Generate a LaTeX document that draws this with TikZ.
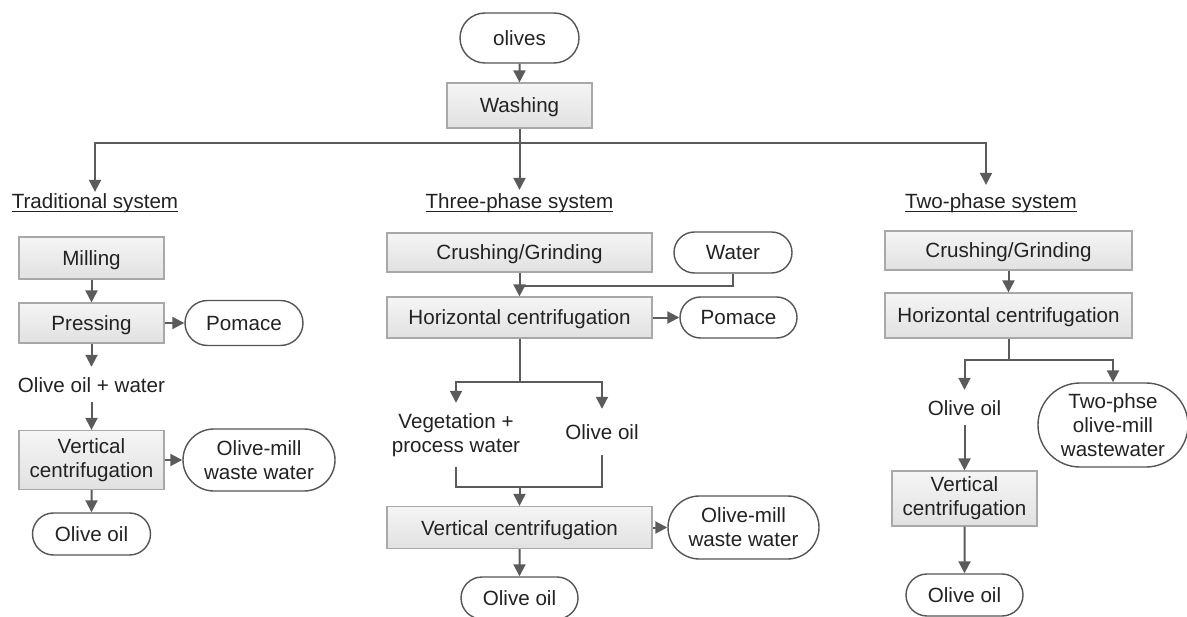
\documentclass[tikz,border=0pt]{standalone}
\usepackage{fontspec}
\setmainfont{Liberation Sans}
\usetikzlibrary{shapes.misc,arrows.meta,calc}
\definecolor{linecol}{HTML}{5B5B5B}
\definecolor{pillline}{HTML}{555555}
\definecolor{boxline}{HTML}{A8A8A8}
\definecolor{boxtop}{HTML}{F5F5F5}
\definecolor{boxbot}{HTML}{E1E1E1}
\definecolor{txt}{HTML}{222222}
% underlined heading with a slightly heavier rule
\newcommand{\ulbl}[1]{\setbox0=\hbox{#1}\rlap{\color{txt}\rule[-3.5bp]{\wd0}{1.4bp}}\box0}

\begin{document}
\begin{tikzpicture}[x=1bp,y=-1bp,
  every node/.style={font=\fontsize{20.6bp}{24bp}\selectfont, text=txt, inner sep=0pt, align=center},
  oneline/.style={text height=15bp, text depth=0bp},
  procbox/.style={rectangle, draw=boxline, line width=1.2bp, top color=boxtop, bottom color=boxbot},
  pill/.style={rounded rectangle, draw=pillline, line width=1.4bp, fill=white},
  flow/.style={draw=linecol, line width=2bp, -{Triangle[width=12bp,length=12bp]}},
  link/.style={draw=linecol, line width=2bp},
]
\useasboundingbox (0,0) rectangle (1187,617);
\fill[white] (0,0) rectangle (1187,617);

% common start
\node[pill, oneline, minimum width=119bp, minimum height=50bp] (olives) at (519.5,38) {olives};
\node[procbox, oneline, minimum width=145bp, minimum height=45bp] (wash) at (519.5,105.5) {Washing};
\coordinate (sp) at (519.5,143);
\node[anchor=base, inner ysep=2bp] (trad) at (95,209) {\ulbl{Traditional system}};
\node[anchor=base, inner ysep=4bp] (three) at (519.5,209) {\ulbl{Three-phase system}};
\node[anchor=base, inner ysep=9bp] (two) at (991,209) {\ulbl{Two-phase system}};

% traditional system
\node[procbox, oneline, minimum width=145bp, minimum height=42bp] (mill) at (91.5,258) {Milling};
\node[procbox, oneline, minimum width=145bp, minimum height=40bp] (press) at (91.5,323) {Pressing};
\node[pill, oneline, minimum width=118bp, minimum height=45bp] (pom1) at (244,323) {Pomace};
\node[oneline, minimum height=35bp] (oow) at (91.5,384.5) {Olive oil + water};
\node[procbox, minimum width=145bp, minimum height=59bp] (vc1) at (91.5,460) {Vertical\\centrifugation};
\node[pill, minimum width=152bp, minimum height=62bp] (omww1) at (259,460) {Olive-mill\\waste water};
\node[pill, oneline, minimum width=118bp, minimum height=42bp] (oil1) at (91.5,534) {Olive oil};

% three-phase system
\node[procbox, oneline, minimum width=265bp, minimum height=39bp] (cg3) at (519.5,252.5) {Crushing/Grinding};
\node[pill, oneline, minimum width=118bp, minimum height=41bp] (water) at (733,252.5) {Water};
\node[procbox, oneline, minimum width=265bp, minimum height=41bp] (hc3) at (519.5,317.5) {Horizontal centrifugation};
\node[pill, oneline, minimum width=117bp, minimum height=41bp] (pom3) at (738.5,317.5) {Pomace};
\coordinate (s3) at (519.5,382);
\node[minimum height=64bp] (veg) at (456,435) {Vegetation +\\process water};
\node[oneline, minimum height=46bp] (oil3t) at (602,432) {Olive oil};
\coordinate (m3) at (519.5,487);
\node[procbox, oneline, minimum width=265bp, minimum height=42bp] (vc3) at (519.5,527.5) {Vertical centrifugation};
\node[pill, minimum width=151bp, minimum height=63bp] (omww3) at (743.5,527.5) {Olive-mill\\waste water};
\node[pill, oneline, minimum width=117bp, minimum height=42bp] (oil3) at (519.5,598) {Olive oil};

% two-phase system
\node[procbox, oneline, minimum width=247bp, minimum height=39bp] (cg2) at (1008.5,250.5) {Crushing/Grinding};
\node[procbox, oneline, minimum width=247bp, minimum height=45bp] (hc2) at (1008.5,315.5) {Horizontal centrifugation};
\coordinate (s2) at (1008.5,360);
\node[oneline, minimum height=35bp] (oil2t) at (964.5,407.5) {Olive oil};
\node[pill, minimum width=150bp, minimum height=84bp] (tpw) at (1113,425) {Two-phse\\olive-mill\\wastewater};
\node[procbox, minimum width=145bp, minimum height=55bp] (vc2) at (964.5,498.5) {Vertical\\centrifugation};
\node[pill, oneline, minimum width=117bp, minimum height=42bp] (oil2) at (964.5,595) {Olive oil};

% connectors: start
\draw[flow] (olives) -- (wash);
\draw[link] (wash) -- (sp);
\draw[flow] (sp) -| (trad.north);
\draw[flow] (sp) -- (three.north);
\draw[flow] (sp) -| ([xshift=-5bp]two.north);

% connectors: traditional
\draw[flow] (mill) -- (press);
\draw[flow] (press) -- (pom1);
\draw[flow] (press) -- (oow);
\draw[flow] (oow) -- (vc1);
\draw[flow] (vc1) -- (omww1);
\draw[flow] (vc1) -- (oil1);

% connectors: three-phase
\draw[flow] (cg3) -- (hc3);
\draw[link] (water.south) |- ($(cg3.south)!0.55!(hc3.north)$);
\draw[flow] (hc3) -- (pom3);
\draw[link] (hc3.south) -- (s3);
\draw[flow] (s3) -| (veg.north);
\draw[flow] (s3) -| (oil3t.north);
\draw[link] (veg.south) |- (m3) -| (oil3t.south);
\draw[flow] (m3) -- (vc3.north);
\draw[flow] (vc3) -- (omww3);
\draw[flow] (vc3) -- (oil3);

% connectors: two-phase
\draw[flow] (cg2) -- (hc2);
\draw[link] (hc2.south) -- (s2);
\draw[flow] (s2) -| (oil2t.north);
\draw[flow] (s2) -| (tpw.north);
\draw[flow] (oil2t) -- (vc2);
\draw[flow] (vc2) -- (oil2);
\end{tikzpicture}
\end{document}
